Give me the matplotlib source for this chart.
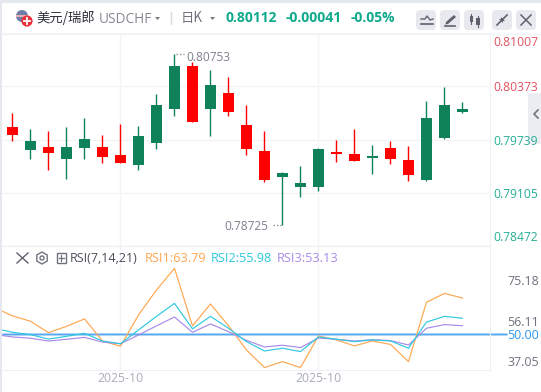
import matplotlib
matplotlib.use("Agg")
import matplotlib.pyplot as plt
from matplotlib.patches import FancyBboxPatch, Rectangle, Circle, RegularPolygon, Polygon

plt.rcParams['font.family'] = ['Open Sans', 'Noto Sans CJK SC', 'DejaVu Sans']

opens  = [.79795,.79724,.79581,.79653,.79748,.79534,.79462,.79783,.80152,.80616,.79950,.80390,.80069,
          .79629,.79260,.79343,.79224,.79629,.79569,.79486,.79546,.79510,.79320,.79998,.80152,.80105]
closes = [.79890,.79617,.79653,.79510,.79641,.79653,.79557,.79438,.79700,.80105,.80616,.80105,.80295,
          .79914,.79605,.79296,.79177,.79177,.79593,.79569,.79522,.79641,.79498,.79260,.79760,.80069]
highs  = [.80057,.79867,.79843,.79890,.79998,.79795,.79926,.79902,.80283,.80753,.80664,.80568,.80485,
          .80152,.79843,.79355,.79427,.79641,.79736,.79867,.79676,.79724,.79664,.80200,.80366,.80188]
lows   = [.79728,.79510,.79379,.79272,.79510,.79462,.79462,.79379,.79629,.80021,.79950,.79783,.80021,
          .79557,.79236,.78725,.79058,.79129,.79474,.79486,.79331,.79450,.79248,.79248,.79748,.80057]

# RSI series start one session before the first visible candle
rsi1 = [62.4,58.5,56.0,50.6,53.6,57.1,46.7,44.2,58.9,70.7,80.9,53.8,64.1,53.9,42.5,34.2,37.0,34.2,
        49.1,47.2,44.4,46.7,45.1,37.0,64.9,69.1,66.9]
rsi2 = [52.7,50.8,49.7,47.6,48.9,50.3,46.7,45.4,51.9,58.3,64.4,52.4,58.3,52.7,46.4,42.0,43.3,41.7,
        48.6,47.5,46.4,47.2,46.7,43.3,55.6,58.3,57.4]
rsi3 = [49.8,48.6,48.0,46.7,47.5,48.4,46.2,45.4,49.5,53.8,58.0,50.8,54.7,51.1,47.0,43.9,44.7,43.6,
        48.1,47.5,46.7,47.3,46.9,44.8,52.7,54.4,53.9]

price_ticks = [0.81007, 0.80373, 0.79739, 0.79105, 0.78472]
price_labels = ['0.81007', '0.80373', '0.79739', '0.79105', '0.78472']
price_label_colors = ['#e2505f', '#e2505f', '#26ae96', '#26ae96', '#26ae96']
rsi_ticks = [75.18, 56.11, 50.00, 37.05]
rsi_labels = ['75.18', '56.11', '50.00', '37.05']
date_ticks = [6, 17]
date_labels = ['2025-10', '2025-10']

W, H = 541, 392
GREEN, RED = '#10825a', '#ff0000'
GRID = '#f3f4f7'

fig = plt.figure(figsize=(W/100, H/100), dpi=100, facecolor='white')


def px_axes(l, t, r, b, **kw):
    return fig.add_axes([l/W, 1-b/H, (r-l)/W, (b-t)/H], **kw)


# side tab sits behind the price labels
fig.add_artist(Rectangle((528/W, 1-144/H), 13/W, 51/H, transform=fig.transFigure,
                         color='#ecedf2', lw=0, zorder=-1))

xlim = (-0.583, 26.53)
# price panel
ax = px_axes(2, 33, 490, 246)
ax.set_xlim(*xlim)
ax.set_ylim(0.78475, 0.81008)
ax.set_yticks(price_ticks)
ax.set_xticks(date_ticks)
ax.tick_params(length=0, labelleft=False, labelbottom=False)
ax.grid(True, color=GRID, lw=1)
ax.set_axisbelow(True)
for s in ax.spines.values():
    s.set_visible(False)
ax.spines['right'].set_visible(True)
ax.spines['right'].set_color('#eef0f4')
xs = list(range(len(opens)))
for i in xs:
    c = RED if closes[i] >= opens[i] else GREEN
    ax.vlines(i, lows[i], highs[i], color=c, lw=1, zorder=3)
    ax.bar(i, abs(closes[i]-opens[i]), bottom=min(opens[i], closes[i]), width=0.61, color=c, lw=0, zorder=4)
ax.annotate('0.80753', xy=(9, max(highs)), xytext=(12, -3), textcoords='offset pixels',
            color='#7d808c', fontsize=8.6, va='center', ha='left')
ax.annotate('0.78725', xy=(15, min(lows)), xytext=(-14, -2), textcoords='offset pixels',
            color='#7d808c', fontsize=8.6, va='center', ha='right')
ax.plot([9.1, 9.55], [max(highs)]*2, color='#8a8d99', lw=1, ls=(0, (1, 1.5)), zorder=3)
ax.plot([14.45, 14.95], [min(lows)]*2, color='#8a8d99', lw=1, ls=(0, (1, 1.5)), zorder=3)
offs = [-9, -1, -2, -2, 9]
for v, t, col, o in zip(price_ticks, price_labels, price_label_colors, offs):
    ax.annotate(t, xy=(1, v), xycoords=ax.get_yaxis_transform(), xytext=(26, o),
                textcoords='offset pixels', color=col, fontsize=8.7, ha='center', va='center',
                annotation_clip=False, zorder=10)

# RSI panel
ar = px_axes(2, 246, 490, 370)
ar.set_xlim(*xlim)
ar.set_ylim(33.05, 91.4)
ar.autoscale(False)
ar.set_xticks(date_ticks, date_labels, color='#a9adb9', fontsize=8.8)
ar.set_yticks(rsi_ticks, rsi_labels, fontsize=8.9, color='#6f727e')
ar.yaxis.tick_right()
ar.tick_params(length=0, axis='both')
ar.tick_params(axis='y', pad=12.5)
ar.tick_params(axis='x', pad=1.5)
ar.get_yticklabels()[2].set_color('#2f96ee')
ar.xaxis.grid(True, color=GRID, lw=1)
ar.set_axisbelow(True)
for s in ar.spines.values():
    s.set_visible(False)
ar.spines['right'].set_visible(True)
ar.spines['right'].set_color('#eef0f4')
ar.spines['top'].set_visible(True)
ar.spines['top'].set_color('#eef0f4')
ar.spines['bottom'].set_visible(True)
ar.spines['bottom'].set_color('#eef0f4')
rx = list(range(-1, len(rsi1)-1))
# the 50 level runs on to its label, past the axis edge
level_x = [xlim[0], 27.45]
ar.plot(level_x, [50, 50], color='#c4e0fa', lw=2.2, zorder=1, clip_on=False, solid_capstyle='butt')
ar.plot(level_x, [50, 50], color='#55a8f0', lw=1, zorder=2, clip_on=False, solid_capstyle='butt')
ar.plot(rx, rsi1, color='#ffa651', lw=0.85, zorder=3)
ar.plot(rx, rsi3, color='#a88be8', lw=0.85, zorder=3)
ar.plot(rx, rsi2, color='#2fc8e0', lw=0.85, zorder=3)

# interface overlay in pixel coordinates
ui = fig.add_axes([0, 0, 1, 1], facecolor='none')
ui.set_xlim(0, W)
ui.set_ylim(H, 0)
ui.axis('off')
ui.add_patch(Rectangle((0, 0), W, 3, color='#e5e8ef', lw=0))
ui.add_patch(Rectangle((0, 0), 2, H, color='#e5e8ef', lw=0))
ui.plot([3, W], [34, 34], color='#f2f3f6', lw=1)

# flag / plus icon
ui.add_patch(Circle((22, 16), 6, color='#6f7ea8', lw=0))
ui.add_patch(Rectangle((16, 15), 12, 2, color='#e8b0b0', lw=0))
ui.add_patch(Circle((27, 21), 5.6, color='#e8333c', lw=0))
ui.plot([24, 30], [21, 21], color='white', lw=1.3)
ui.plot([27, 27], [18, 24], color='white', lw=1.3)

ui.text(36, 18, '美元/瑞郎', fontsize=9.6, color='#30323a', va='center', ha='left',
        family=['Noto Sans CJK SC', 'DejaVu Sans'])
ui.text(98.5, 19, 'USDCHF', fontsize=9.8, color='#858893', va='center', ha='left')
ui.add_patch(Polygon([[155, 17], [160, 17], [157.5, 20]], color='#777a85', lw=0))
ui.plot([171, 171], [12, 24], color='#d8dae0', lw=1)
ui.text(181, 17.5, '日K', fontsize=9.6, color='#70737e', va='center', ha='left',
        family=['Noto Sans CJK SC', 'DejaVu Sans'])
ui.add_patch(Polygon([[210, 17], [215, 17], [212.5, 20]], color='#777a85', lw=0))
for x, t in [(226, '0.80112'), (286, '-0.00041'), (351, '-0.05%')]:
    ui.text(x, 17.5, t, fontsize=10, color='#0fa98c', fontweight='bold', va='center', ha='left')

# toolbar buttons
for x in [416, 440, 464, 492, 516]:
    ui.add_patch(FancyBboxPatch((x+2, 12), 16, 16, boxstyle='round,pad=2,rounding_size=4',
                                fc='#e8e9ef', ec='none'))
IC = '#5e616d'
ui.plot([421, 425, 427, 430, 433], [19, 19, 16, 20, 19], color=IC, lw=1)
ui.plot([421, 433], [24, 24], color=IC, lw=1.2)
ui.add_patch(Polygon([[446, 22], [454, 15], [456, 17], [448, 24], [445.5, 24.5]], color=IC, lw=0))
ui.plot([445, 455], [25.5, 25.5], color=IC, lw=1.2)
ui.add_patch(Rectangle((469.5, 16), 3, 6, color=IC, lw=0))
ui.add_patch(Rectangle((476, 18), 3.5, 7, color=IC, lw=0))
ui.plot([471, 471], [14, 24], color=IC, lw=0.8)
ui.plot([477.8, 477.8], [16, 27], color=IC, lw=0.8)
ui.plot([497, 501], [25, 21], color=IC, lw=1.2)
ui.plot([503, 507], [19, 15], color=IC, lw=1.2)
ui.add_patch(Polygon([[499, 19], [503, 19], [503, 23]], color=IC, lw=0))
ui.add_patch(Polygon([[501, 17], [505, 21], [501, 21]], color=IC, lw=0))
ui.plot([521, 531], [15, 25], color=IC, lw=1.1)
ui.plot([531, 521], [15, 25], color=IC, lw=1.1)

# side tab chevron
ui.plot([538, 534, 538], [110, 114, 118], color='#6f727e', lw=1.2)

# RSI legend row
ui.plot([17, 28], [253, 263], color='#5f626e', lw=1)
ui.plot([28, 17], [253, 263], color='#5f626e', lw=1)
ui.add_patch(RegularPolygon((42, 258), 6, radius=6, fc='none', ec='#6f727e', lw=1))
ui.add_patch(Circle((42, 258), 2, fc='none', ec='#6f727e', lw=1))
ui.add_patch(Rectangle((56.5, 253), 9.5, 10, fc='none', ec='#6f727e', lw=1))
ui.plot([58.5, 64], [258, 258], color='#6f727e', lw=0.9)
ui.plot([61.2, 61.2], [255, 261], color='#6f727e', lw=0.9)
ui.text(70, 258.5, 'RSI(7,14,21)', fontsize=9.0, color='#4b4e58', va='center', ha='left')
ui.text(145, 258.5, 'RSI1:63.79', fontsize=9.2, color='#ffa651', va='center', ha='left')
ui.text(211, 258.5, 'RSI2:55.98', fontsize=9.2, color='#2fc8e0', va='center', ha='left')
ui.text(277, 258.5, 'RSI3:53.13', fontsize=9.2, color='#a88be8', va='center', ha='left')

fig.savefig('out.png', dpi=100)
